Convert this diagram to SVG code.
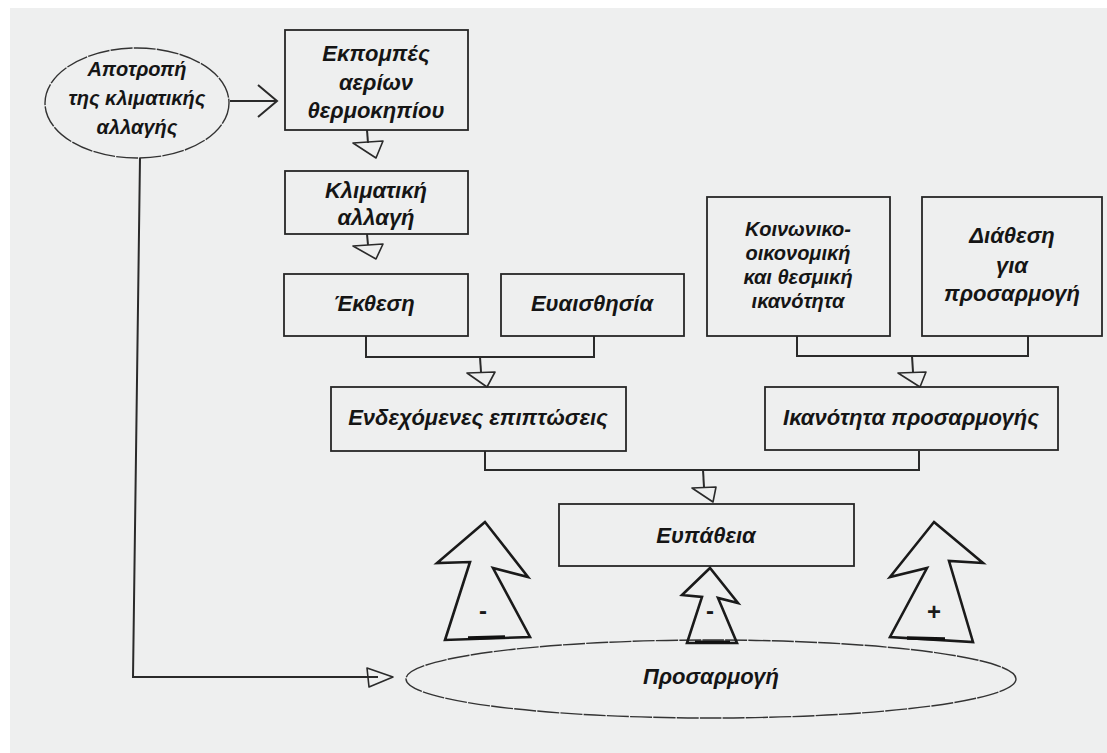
<svg xmlns="http://www.w3.org/2000/svg" width="1107" height="753" viewBox="0 0 1107 753">
<style>
.bx{fill:none;stroke:#262626;stroke-width:1.8}
.el{fill:none;stroke:#333;stroke-width:1.4;stroke-dasharray:22 1.2}
.ln{fill:none;stroke:#2a2a2a;stroke-width:2}
.tri{fill:none;stroke:#2a2a2a;stroke-width:1.6;stroke-linejoin:round}
.big{fill:none;stroke:#1a1a1a;stroke-width:2.6;stroke-linejoin:miter}
.t{font-family:"Liberation Sans",Arial,sans-serif;font-style:italic;font-weight:bold;font-size:22px;fill:#151515;text-anchor:middle}
.m{font-size:20px}
.a{font-size:20px}
.s{font-family:"Liberation Sans",sans-serif;font-weight:bold;font-size:24px;fill:#1a1a1a;text-anchor:middle}
</style>
<rect x="0" y="0" width="1107" height="753" fill="#ffffff"/>
<rect x="10" y="8" width="1097" height="745" fill="#eeefef"/>

<g id="connectors">
  <path class="ln" d="M230 101 L276 101"/>
  <path class="ln" d="M258 85 L277 101 L258 117" stroke-width="2.6"/>
  <path class="ln" d="M367 130 L368 143"/>
  <polygon class="tri" points="353,143 383,141 376,158"/>
  <path class="ln" d="M367 234 L368 245"/>
  <polygon class="tri" points="353,246 383,244 376,259"/>
  <path class="ln" d="M366 336 L366 357 L594 357 L594 336"/>
  <path class="ln" d="M480 357 L481 372"/>
  <polygon class="tri" points="467,373 495,372 487,387"/>
  <path class="ln" d="M797 336 L797 356 L1028 356 L1028 336"/>
  <path class="ln" d="M912 356 L913 372"/>
  <polygon class="tri" points="898,373 926,372 920,387"/>
  <path class="ln" d="M485 451 L485 470 L919 470 L919 451"/>
  <path class="ln" d="M703 470 L704 487"/>
  <polygon class="tri" points="692,488 716,487 713,502"/>
  <path class="ln" d="M140 158 L133 677 L378 677"/>
  <polygon class="tri" points="367,668 393,677 369,687"/>
</g>

<g id="node-apotropi">
  <ellipse class="el" cx="137" cy="103" rx="92" ry="55"/>
  <text class="t a" x="137" y="76">Αποτροπή</text>
  <text class="t a" x="137" y="105">της κλιματικής</text>
  <text class="t a" x="137" y="134">αλλαγής</text>
</g>
<g id="node-ekpompes">
  <rect class="bx" x="285" y="30" width="183" height="100"/>
  <text class="t" x="376" y="61">Εκπομπές</text>
  <text class="t" x="376" y="90">αερίων</text>
  <text class="t" x="376" y="118">θερμοκηπίου</text>
</g>
<g id="node-klimatiki">
  <rect class="bx" x="285" y="171" width="183" height="63"/>
  <text class="t" x="376" y="198">Κλιματική</text>
  <text class="t" x="376" y="225">αλλαγή</text>
</g>
<g id="node-ekthesi">
  <rect class="bx" x="284" y="274" width="184" height="62"/>
  <text class="t" x="374" y="311">Έκθεση</text>
</g>
<g id="node-evaisthisia">
  <rect class="bx" x="501" y="274" width="183" height="62"/>
  <text class="t" x="592" y="311">Ευαισθησία</text>
</g>
<g id="node-koinoniko">
  <rect class="bx" x="707" y="197" width="183" height="139"/>
  <text class="t m" x="798" y="236">Κοινωνικο-</text>
  <text class="t m" x="798" y="260">οικονομική</text>
  <text class="t m" x="798" y="284">και θεσμική</text>
  <text class="t m" x="798" y="308">ικανότητα</text>
</g>
<g id="node-diathesi">
  <rect class="bx" x="922" y="197" width="180" height="139"/>
  <text class="t" x="1012" y="243">Διάθεση</text>
  <text class="t" x="1012" y="273">για</text>
  <text class="t" x="1012" y="301">προσαρμογή</text>
</g>
<g id="node-endexomenes">
  <rect class="bx" x="331" y="387" width="295" height="64"/>
  <text class="t" x="478" y="425">Ενδεχόμενες επιπτώσεις</text>
</g>
<g id="node-ikanotita">
  <rect class="bx" x="765" y="387" width="293" height="63"/>
  <text class="t" x="911" y="425">Ικανότητα προσαρμογής</text>
</g>
<g id="node-evpatheia">
  <rect class="bx" x="559" y="504" width="295" height="62"/>
  <text class="t" x="706" y="543">Ευπάθεια</text>
</g>
<g id="node-prosarmogi">
  <ellipse class="el" cx="711" cy="679" rx="305" ry="39"/>
  <text class="t" x="711" y="684">Προσαρμογή</text>
</g>

<g id="arrow-left">
  <polygon class="big" points="485,522 437,563 470,562 445,640 530,637 493,568 528,577"/>
  <path d="M468 638 L505 637" stroke="#111" stroke-width="3.5"/>
  <text class="s" x="483" y="619">-</text>
</g>
<g id="arrow-middle">
  <polygon class="big" points="710,568 682,595 702,597 687,643 737,643 718,598 738,603" stroke-width="2.2"/>
  <path d="M695 642 L730 642" stroke="#111" stroke-width="3"/>
  <text class="s" x="710" y="619">-</text>
</g>
<g id="arrow-right">
  <polygon class="big" points="934,522 983,563 949,561 973,642 890,637 927,568 890,577"/>
  <path d="M907 638 L945 639" stroke="#111" stroke-width="3.5"/>
  <text class="s" x="934" y="620">+</text>
</g>
</svg>
